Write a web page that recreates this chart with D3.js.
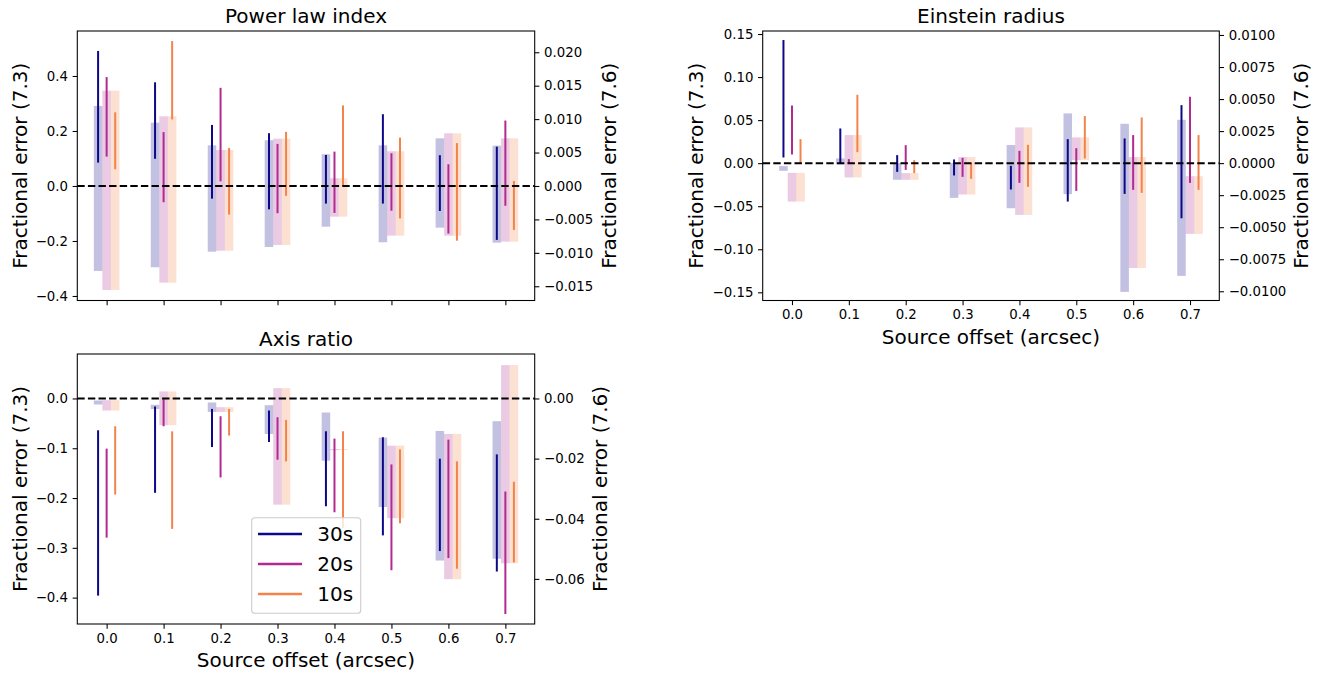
<!DOCTYPE html>
<html>
<head>
<meta charset="utf-8">
<script src="https://cdn.jsdelivr.net/npm/d3@7"></script>
<style>
  body { margin: 0; background: #fff; }
  svg { display: block; font-family: "DejaVu Sans", sans-serif; }
</style>
</head>
<body>
<svg id="chart" width="1325" height="673"></svg>
<script>
// ---------------- DATA ----------------
const offsets = [0.0, 0.1, 0.2, 0.3, 0.4, 0.5, 0.6, 0.7];
const seriesNames = ["30s", "20s", "10s"];
const seriesColors = ["#0d0887", "#b12a90", "#f2844b"];

// Power law index: fractional error (7.3) ranges [low, high]
const powerLaw73_30s = [[0.085,0.491],[0.099,0.377],[-0.046,0.222],[-0.085,0.192],[-0.064,0.113],[-0.064,0.261],[-0.091,0.112],[-0.196,0.143]];
const powerLaw73_20s = [[0.107,0.396],[-0.059,0.196],[0.017,0.357],[-0.099,0.153],[-0.098,0.125],[-0.090,0.119],[-0.173,0.079],[-0.072,0.238]];
const powerLaw73_10s = [[0.061,0.268],[0.242,0.527],[-0.104,0.138],[-0.036,0.197],[0.0,0.293],[-0.118,0.176],[-0.199,0.156],[-0.160,0.018]];
// Power law index: fractional error (7.6) ranges [low, high]
const powerLaw76_30s = [[-0.01271,0.01197],[-0.01216,0.00947],[-0.00983,0.00608],[-0.00912,0.00684],[-0.00609,0.00474],[-0.00842,0.00608],[-0.00624,0.00713],[-0.00848,0.00603]];
const powerLaw76_20s = [[-0.01555,0.01425],[-0.01446,0.01042],[-0.00968,0.00538],[-0.00882,0.00707],[-0.00459,0.00115],[-0.00743,0.00519],[-0.00743,0.00788],[-0.00833,0.00713]];
const powerLaw76_10s = [[-0.01555,0.01425],[-0.01446,0.01042],[-0.00968,0.00538],[-0.00882,0.00707],[-0.00459,0.00115],[-0.00743,0.00519],[-0.00743,0.00788],[-0.00833,0.00713]];

// Einstein radius
const einstein73_30s = [[0.0066,0.143],[0.0,0.0403],[-0.0101,0.0093],[-0.0143,0.0043],[-0.0306,-0.0031],[-0.0446,0.0279],[-0.0357,0.0287],[-0.064,0.0674]];
const einstein73_20s = [[0.0101,0.067],[-0.0008,0.0047],[-0.0078,0.0209],[-0.0159,0.0062],[-0.0229,0.0143],[-0.0322,0.0174],[-0.031,0.0326],[-0.0229,0.0771]];
const einstein73_10s = [[0.0,0.0279],[0.0128,0.0794],[-0.0116,0.0035],[-0.0182,0.0],[-0.0275,0.0213],[0.0055,0.0547],[-0.0345,0.0531],[-0.031,0.0326]];
const einstein76_30s = [[-0.0006,-0.00023],[-0.0001,0.00037],[-0.0013,0.0],[-0.00271,0.0],[-0.00352,0.00141],[-0.00242,0.00388],[-0.01005,0.00307],[-0.0088,0.00338]];
const einstein76_20s = [[-0.0030,-0.00076],[-0.00112,0.00219],[-0.0013,-0.00078],[-0.00245,0.00047],[-0.00404,0.00279],[0.00023,0.00201],[-0.00818,0.00047],[-0.00552,-0.00102]];
const einstein76_10s = [[-0.0030,-0.00076],[-0.00112,0.00219],[-0.0013,-0.00078],[-0.00245,0.00047],[-0.00404,0.00279],[0.00023,0.00201],[-0.00818,0.00047],[-0.00552,-0.00102]];

// Axis ratio
const axisRatio73_30s = [[-0.396,-0.0639],[-0.1895,-0.0161],[-0.0976,-0.021],[-0.0875,-0.0242],[-0.2165,-0.0659],[-0.275,-0.078],[-0.3065,-0.121],[-0.3476,-0.1123]];
const axisRatio73_20s = [[-0.2796,-0.1008],[-0.0558,-0.0014],[-0.1587,-0.0357],[-0.123,-0.0377],[-0.2286,-0.0806],[-0.345,-0.1325],[-0.3206,-0.0827],[-0.4329,-0.1869]];
const axisRatio73_10s = [[-0.193,-0.0558],[-0.262,-0.066],[-0.0746,-0.021],[-0.1264,-0.0431],[-0.26,-0.0659],[-0.2508,-0.1022],[-0.342,-0.1264],[-0.3294,-0.1673]];
const axisRatio76_30s = [[-0.002,-0.00067],[-0.0035,-0.0021],[-0.00447,-0.00133],[-0.0118,-0.00223],[-0.0207,-0.00467],[-0.0361,-0.013],[-0.0539,-0.0108],[-0.0533,-0.00757]];
const axisRatio76_20s = [[-0.004,-0.00057],[-0.0089,0.00233],[-0.00447,-0.0029],[-0.0353,0.00343],[-0.0172,-0.0168],[-0.0398,-0.0157],[-0.0601,-0.0118],[-0.0548,0.0111]];
const axisRatio76_10s = [[-0.004,-0.00057],[-0.0089,0.00233],[-0.00447,-0.0029],[-0.0353,0.00343],[-0.0172,-0.0168],[-0.0398,-0.0157],[-0.0601,-0.0118],[-0.0548,0.0111]];

// Tick values
const powerLawLeftTicks = [-0.4, -0.2, 0.0, 0.2, 0.4];
const powerLawRightTicks = [-0.015, -0.010, -0.005, 0.000, 0.005, 0.010, 0.015, 0.020];
const einsteinLeftTicks = [-0.15, -0.10, -0.05, 0.00, 0.05, 0.10, 0.15];
const einsteinRightTicks = [-0.0100, -0.0075, -0.0050, -0.0025, 0.0000, 0.0025, 0.0050, 0.0075, 0.0100];
const axisRatioLeftTicks = [-0.4, -0.3, -0.2, -0.1, 0.0];
const axisRatioRightTicks = [-0.06, -0.04, -0.02, 0.00];

// ---------------- LAYOUT ----------------
const svg = d3.select("#chart");
const seriesDx = [-0.015, 0.0, 0.015];
const barW = 0.015;
const TICK = 4.67, PAD = 4.67;
const xDomain = [-0.0515, 0.7515];

const panels = [
  { title: "Power law index", x0: 77.3, x1: 534.7, y0: 31, y1: 300.5,
    left: [-0.4164, 0.5636], right: [-0.01713, 0.02318],
    lTicks: powerLawLeftTicks, lFmt: ".1f", rTicks: powerLawRightTicks, rFmt: ".3f",
    lines: [powerLaw73_30s, powerLaw73_20s, powerLaw73_10s],
    bars: [powerLaw76_30s, powerLaw76_20s, powerLaw76_10s],
    xLabels: false, leftLabelX: 26.5, rightLabelX: 615.5 },
  { title: "Einstein radius", x0: 762.7, x1: 1219.3, y0: 31, y1: 300.5,
    left: [-0.1595, 0.1535], right: [-0.01072, 0.01031],
    lTicks: einsteinLeftTicks, lFmt: ".2f", rTicks: einsteinRightTicks, rFmt: ".4f",
    lines: [einstein73_30s, einstein73_20s, einstein73_10s],
    bars: [einstein76_30s, einstein76_20s, einstein76_10s],
    xLabels: true, leftLabelX: 702.5, rightLabelX: 1307.5 },
  { title: "Axis ratio", x0: 77.3, x1: 534.7, y0: 354, y1: 624,
    left: [-0.4530, 0.0893], right: [-0.0750, 0.01479],
    lTicks: axisRatioLeftTicks, lFmt: ".1f", rTicks: axisRatioRightTicks, rFmt: ".2f",
    lines: [axisRatio73_30s, axisRatio73_20s, axisRatio73_10s],
    bars: [axisRatio76_30s, axisRatio76_20s, axisRatio76_10s],
    xLabels: true, leftLabelX: 26.5, rightLabelX: 607, legend: true }
];

function styleAxis(g) {
  g.select(".domain").remove();
  g.selectAll(".tick line").attr("stroke", "#000").attr("stroke-width", 1.07);
  g.selectAll(".tick text").attr("fill", "#000").style("font-size", "13.3px")
    .style("font-family", "DejaVu Sans");
}

panels.forEach(p => {
  const x = d3.scaleLinear().domain(xDomain).range([p.x0, p.x1]);
  const yL = d3.scaleLinear().domain(p.left).range([p.y1, p.y0]);
  const yR = d3.scaleLinear().domain(p.right).range([p.y1, p.y0]);
  const g = svg.append("g");

  // bars (7.6)
  p.bars.forEach((arr, si) => {
    g.append("g").selectAll("rect").data(arr).join("rect")
      .attr("x", (d, i) => x(offsets[i] + seriesDx[si] - barW / 2))
      .attr("width", (d, i) => x(offsets[i] + seriesDx[si] + barW / 2) - x(offsets[i] + seriesDx[si] - barW / 2))
      .attr("y", d => yR(d[1]))
      .attr("height", d => Math.max(0.5, yR(d[0]) - yR(d[1])))
      .attr("fill", seriesColors[si])
      .attr("fill-opacity", 0.25);
  });

  // error lines (7.3)
  p.lines.forEach((arr, si) => {
    g.append("g").selectAll("line").data(arr).join("line")
      .attr("x1", (d, i) => x(offsets[i] + seriesDx[si]))
      .attr("x2", (d, i) => x(offsets[i] + seriesDx[si]))
      .attr("y1", d => yL(d[0]))
      .attr("y2", d => yL(d[1]))
      .attr("stroke", seriesColors[si])
      .attr("stroke-width", 2);
  });

  // zero line
  g.append("line")
    .attr("x1", p.x0).attr("x2", p.x1)
    .attr("y1", yL(0)).attr("y2", yL(0))
    .attr("stroke", "#000").attr("stroke-width", 2)
    .attr("stroke-dasharray", "7.4,3.2");

  // frame
  g.append("rect")
    .attr("x", p.x0).attr("y", p.y0)
    .attr("width", p.x1 - p.x0).attr("height", p.y1 - p.y0)
    .attr("fill", "none").attr("stroke", "#000").attr("stroke-width", 1.07);

  // axes
  const xa = d3.axisBottom(x).tickValues(offsets).tickSize(TICK).tickPadding(PAD)
    .tickFormat(p.xLabels ? d3.format(".1f") : () => "");
  g.append("g").attr("transform", `translate(0,${p.y1})`).call(xa).call(styleAxis)
    .selectAll(".tick text").attr("dy", "0.71em");

  g.append("g").attr("transform", `translate(${p.x0},0)`)
    .call(d3.axisLeft(yL).tickValues(p.lTicks).tickSize(TICK).tickPadding(PAD).tickFormat(d3.format(p.lFmt)))
    .call(styleAxis);
  g.append("g").attr("transform", `translate(${p.x1},0)`)
    .call(d3.axisRight(yR).tickValues(p.rTicks).tickSize(TICK).tickPadding(PAD).tickFormat(d3.format(p.rFmt)))
    .call(styleAxis);

  // title
  g.append("text").attr("x", (p.x0 + p.x1) / 2).attr("y", p.y0 - 8)
    .attr("text-anchor", "middle").style("font-size", "20px").text(p.title);

  // y labels
  const cy = (p.y0 + p.y1) / 2;
  g.append("text").attr("transform", `translate(${p.leftLabelX},${cy}) rotate(-90)`)
    .attr("text-anchor", "middle").style("font-size", "20px").text("Fractional error (7.3)");
  g.append("text").attr("transform", `translate(${p.rightLabelX},${cy}) rotate(-90)`)
    .attr("text-anchor", "middle").style("font-size", "20px").text("Fractional error (7.6)");

  if (p.xLabels) {
    g.append("text").attr("x", (p.x0 + p.x1) / 2).attr("y", p.y1 + 43.3)
      .attr("text-anchor", "middle").style("font-size", "20px").text("Source offset (arcsec)");
  }

  if (p.legend) {
    const lg = g.append("g");
    lg.append("rect").attr("x", 251.7).attr("y", 517.7).attr("width", 109).attr("height", 95.6)
      .attr("rx", 3).attr("fill", "#fff").attr("fill-opacity", 0.8)
      .attr("stroke", "#cccccc").attr("stroke-width", 1.07);
    seriesNames.forEach((name, si) => {
      const yy = 534 + si * 30;
      lg.append("line").attr("x1", 258).attr("x2", 302).attr("y1", yy).attr("y2", yy)
        .attr("stroke", seriesColors[si]).attr("stroke-width", 2.5);
      lg.append("text").attr("x", 317.3).attr("y", yy + 7.3)
        .style("font-size", "20px").text(name);
    });
  }
});
</script>
</body>
</html>
